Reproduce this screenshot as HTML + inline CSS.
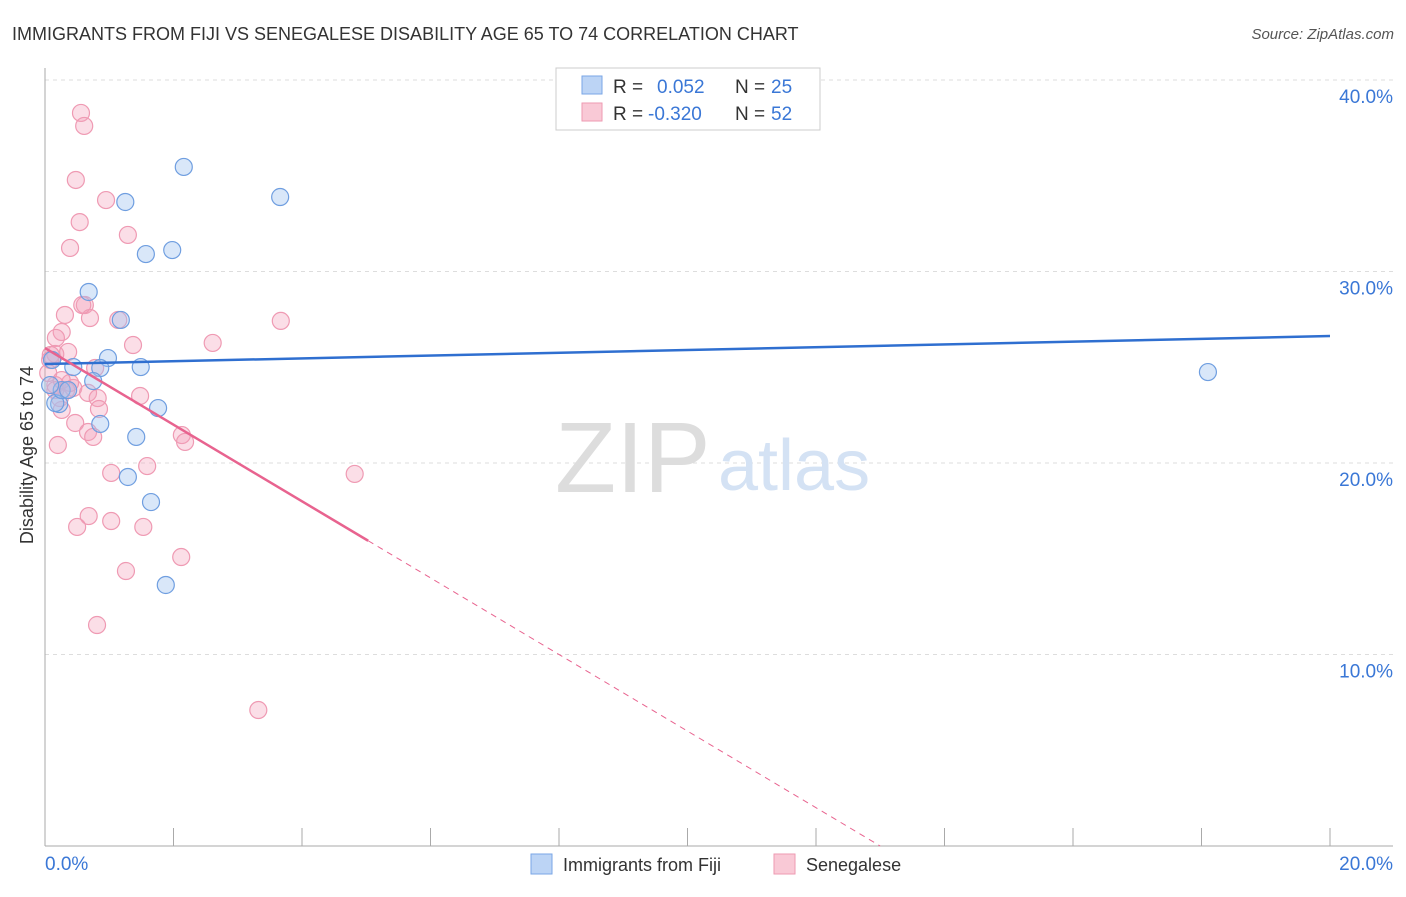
<!DOCTYPE html>
<html><head><meta charset="utf-8"><style>
body{margin:0;background:#fff;font-family:"Liberation Sans",sans-serif}
svg text{font-family:"Liberation Sans",sans-serif}
</style></head><body>
<svg width="1406" height="892" xmlns="http://www.w3.org/2000/svg">
<text x="12" y="40" font-size="18" fill="#333">IMMIGRANTS FROM FIJI VS SENEGALESE DISABILITY AGE 65 TO 74 CORRELATION CHART</text>
<text x="1394" y="39" font-size="15" fill="#555" font-style="italic" text-anchor="end">Source: ZipAtlas.com</text>
<g id="grid"></g>
<g id="axes"></g>
<text x="555" y="492" font-size="100" fill="#ddd" font-family="Liberation Serif">ZIP</text>
<text x="718" y="490" font-size="72" fill="#d4e2f4">atlas</text>
<g id="pts"></g>
<g id="trend"></g>
<text transform="translate(33,455) rotate(-90)" font-size="18" fill="#333" text-anchor="middle">Disability Age 65 to 74</text>
<g>
<rect x="556" y="68" width="264" height="62" fill="#fff" stroke="#ccc"/>
<rect x="582" y="76" width="20" height="18" fill="#bcd4f5" stroke="#7aa6e6"/>
<rect x="582" y="103" width="20" height="18" fill="#f9c9d6" stroke="#ee9ab2"/>
<text x="613" y="93" font-size="19" fill="#333">R =</text><text x="657" y="93" font-size="19" fill="#3a77d6">0.052</text>
<text x="735" y="93" font-size="19" fill="#333">N =</text><text x="771" y="93" font-size="19" fill="#3a77d6">25</text>
<text x="613" y="120" font-size="19" fill="#333">R =</text><text x="648" y="120" font-size="19" fill="#3a77d6">-0.320</text>
<text x="735" y="120" font-size="19" fill="#333">N =</text><text x="771" y="120" font-size="19" fill="#3a77d6">52</text>
</g>
<g>
<rect x="531" y="854" width="21" height="20" fill="#bcd4f5" stroke="#7aa6e6"/>
<text x="563" y="871" font-size="18" fill="#333">Immigrants from Fiji</text>
<rect x="774" y="854" width="21" height="20" fill="#f9c9d6" stroke="#ee9ab2"/>
<text x="806" y="871" font-size="18" fill="#333">Senegalese</text>
</g>
</svg>
<script>
const yTicks=[10,20,30,40];
const yTickLabels=["10.0%","20.0%","30.0%","40.0%"];
const xTickLabels=["0.0%","20.0%"];
const fijiX=[2.16,3.66,1.25,1.57,1.98,0.68,1.18,0.98,1.49,0.86,0.44,0.75,0.22,0.16,1.76,0.86,1.42,1.29,1.65,1.88,18.10,0.26,0.08,0.11,0.36];
const fijiY=[35.46,33.89,33.63,30.91,31.12,28.93,27.47,25.48,25.01,24.96,25.01,24.28,23.08,23.13,22.87,22.04,21.36,19.27,17.96,13.63,24.75,23.81,24.07,25.38,23.81];
const senX=[0.56,0.61,0.48,0.95,0.54,1.29,0.39,0.62,0.31,0.70,1.14,3.67,0.26,1.37,2.61,0.17,0.16,0.36,0.08,0.78,0.16,0.33,0.44,0.67,0.82,1.48,0.26,0.84,0.47,0.67,0.75,2.13,2.18,0.20,1.03,1.59,4.82,0.68,1.03,0.50,1.53,2.12,1.26,0.81,3.32,0.23,0.09,0.05,0.16,0.39,0.26,0.58];
const senY=[38.28,37.60,34.78,33.73,32.58,31.91,31.23,28.25,27.73,27.57,27.47,27.42,26.84,26.16,26.27,26.53,25.69,25.80,25.38,24.96,24.07,23.81,23.92,23.66,23.39,23.50,22.77,22.82,22.09,21.62,21.36,21.46,21.10,20.94,19.48,19.84,19.43,17.23,16.97,16.66,16.66,15.09,14.36,11.54,7.10,23.39,25.64,24.70,23.81,24.18,24.33,28.25];
const fijiTrend=[25.17,26.63];
const senTrend=[26.0,-2.0];
const senSolidEnd=5.03;
const NS="http://www.w3.org/2000/svg";
const X=v=>45+v*64.25, Y=v=>846-v*19.15;
function mk(tag,attrs,parent){const e=document.createElementNS(NS,tag);for(const k in attrs)e.setAttribute(k,attrs[k]);parent.appendChild(e);return e;}
const grid=document.getElementById('grid'),axes=document.getElementById('axes');
yTicks.forEach((t,i)=>{
 const l=mk('line',{x1:45,x2:1393,y1:Y(t),y2:Y(t),stroke:'#ddd','stroke-dasharray':'4,4'},grid);
 
 
 const tx=mk('text',{x:1393,y:Y(t)+23,'font-size':19,fill:'#3a77d6','text-anchor':'end'},axes);
 tx.textContent=yTickLabels[i];
 
 
});
mk('line',{x1:45,x2:45,y1:68,y2:846,stroke:'#aaa'},axes);
mk('line',{x1:45,x2:1393,y1:846,y2:846,stroke:'#aaa'},axes);
for(let i=1;i<=10;i++){const t=mk('line',{x1:X(i*2),x2:X(i*2),y1:828,y2:846,stroke:'#aaa'},axes);}
const xl0=mk('text',{x:45,y:870,'font-size':19,fill:'#3a77d6'},axes);xl0.textContent=xTickLabels[0];


const xl1=mk('text',{x:1393,y:870,'font-size':19,fill:'#3a77d6','text-anchor':'end'},axes);xl1.textContent=xTickLabels[1];


const pts=document.getElementById('pts');
senX.forEach((x,i)=>{const c=mk('circle',{cx:X(x),cy:Y(senY[i]),r:8.5,fill:'rgba(244,160,185,0.35)',stroke:'#ef9ab3','stroke-width':1.2},pts);

});
fijiX.forEach((x,i)=>{const c=mk('circle',{cx:X(x),cy:Y(fijiY[i]),r:8.5,fill:'rgba(160,195,240,0.4)',stroke:'#6f9ee0','stroke-width':1.2},pts);

});
const tr=document.getElementById('trend');
const fl=mk('line',{x1:X(0),y1:Y(fijiTrend[0]),x2:X(20),y2:Y(fijiTrend[1]),stroke:'#2f6fd0','stroke-width':2.5},tr);


const sy=x=>senTrend[0]+senTrend[1]*x, zx=-senTrend[0]/senTrend[1];
const sl=mk('line',{x1:X(0),y1:Y(sy(0)),x2:X(senSolidEnd),y2:Y(sy(senSolidEnd)),stroke:'#e8638f','stroke-width':2.5},tr);


const sd=mk('line',{x1:X(senSolidEnd),y1:Y(sy(senSolidEnd)),x2:X(zx),y2:Y(0),stroke:'#e8638f','stroke-width':1,'stroke-dasharray':'6,5'},tr);


</script>
</body></html>
